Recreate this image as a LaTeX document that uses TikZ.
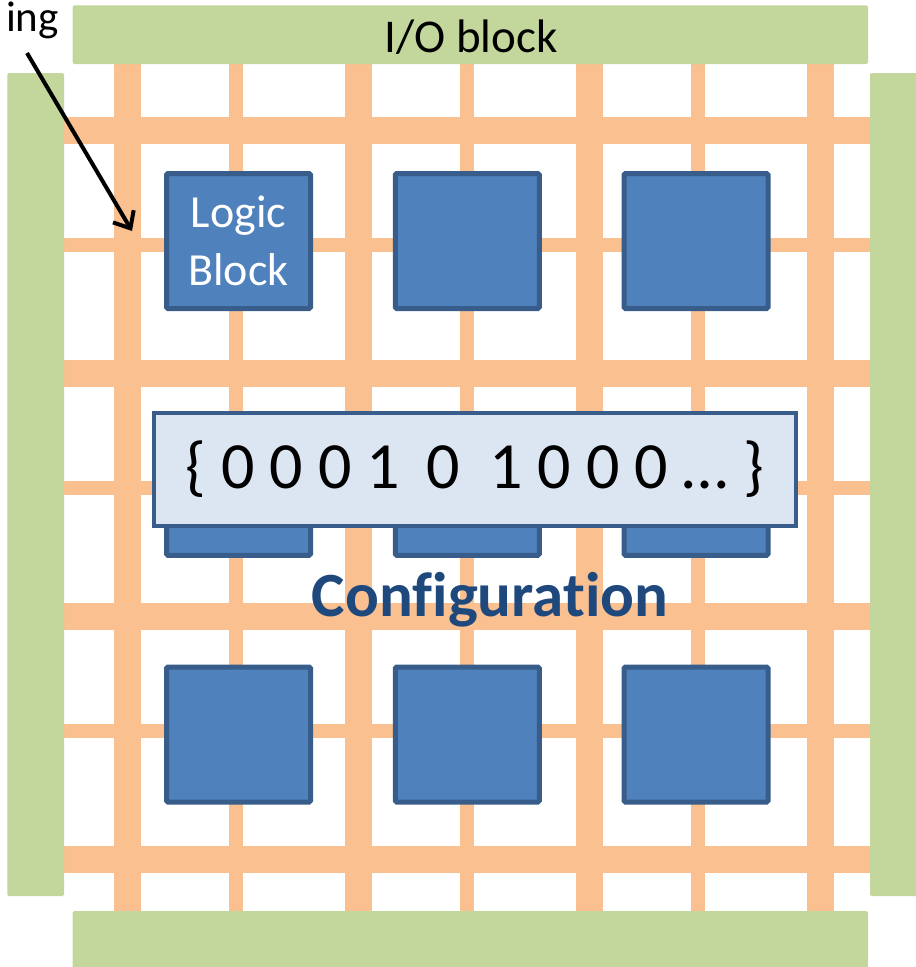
\documentclass[tikz,border=0pt]{standalone}
\usepackage{fontspec}
\setmainfont{Carlito}[Ligatures={NoCommon,NoRare}]
\usetikzlibrary{arrows.meta}

\definecolor{wire}{HTML}{FAC090}
\definecolor{iofill}{HTML}{C3D69B}
\definecolor{lbfill}{HTML}{4F81BD}
\definecolor{lbline}{HTML}{385D8A}
\definecolor{cfgfill}{HTML}{DCE6F2}
\definecolor{cfgtext}{HTML}{1F497D}

\begin{document}
\begin{tikzpicture}[x=1pt,y=-1pt,
	wide/.style={draw=wire,line width=27pt},
	narrow/.style={draw=wire,line width=14pt},
	io/.style={fill=iofill,rounded corners=2pt},
	lblock/.style={draw=lbline,fill=lbfill,line width=5pt,rounded corners=1.5pt,
		minimum width=144pt,minimum height=135pt,inner sep=0pt,
		text=white,align=center,font=\fontsize{46}{58}\selectfont},
	pointer/.style={line width=4pt,-{Straight Barb[length=14pt,width=24pt]}}]
	\useasboundingbox (0,0) rectangle (916,967);
	\clip (0,0) rectangle (916,967);

	\foreach \i in {0,...,3} {
		\draw[wide] ({127.5+231*\i},60) -- ({127.5+231*\i},915);
		\draw[wide] (60,{130+243.3*\i}) -- (875,{130+243.3*\i});
	}
	\foreach \i in {0,1,2} {
		\draw[narrow] ({236+231*\i},60) -- ({236+231*\i},915);
		\draw[narrow] (60,{245+243*\i}) -- (875,{245+243*\i});
	}

	\fill[io] (72.7,5.3) rectangle (868,64);
	\fill[io] (72.7,911) rectangle (868,975);
	\fill[io] (7.3,73) rectangle (64,896);
	\fill[io] (870,73) rectangle (930,896);
	\node[anchor=base,font=\fontsize{47}{56}\selectfont] (io) at (471,52) {I/O block};

	\foreach \r in {0,1,2}
		\foreach \c in {0,1,2}
			\node[lblock] (lb\r\c) at ({238.5+228.75*\c},{241+246.75*\r}) {\ifnum\r\c=0 Logic\\Block\fi};

	\node[draw=lbline,fill=cfgfill,line width=4pt,minimum width=642pt,minimum height=113pt,
		inner sep=0pt,font=\fontsize{66}{79}\selectfont] (cfg) at (475,469.5)
		{\{ 0 0 0 1 \,0\ \ 1 0 0 0 … \}};

	\node[anchor=base,font=\bfseries\fontsize{63}{75}\selectfont,text=cfgtext]
		(conf) at (490,616) {Configuration};

	\node[anchor=base east,font=\fontsize{43}{52}\selectfont,inner sep=0pt] (ing) at (59,31) {ing};
	\coordinate (tail) at (27,53);
	\coordinate (tip) at (132,231);
	\draw[pointer] (tail) -- (tip);
\end{tikzpicture}
\end{document}
